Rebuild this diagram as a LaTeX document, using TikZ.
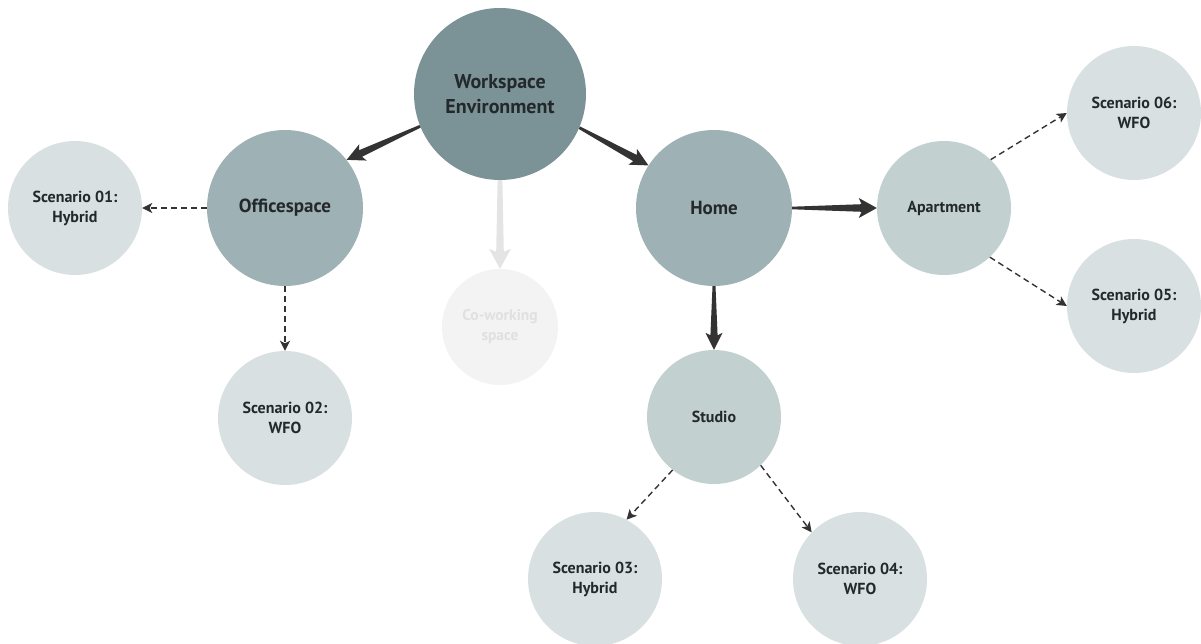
\documentclass[tikz,border=0pt]{standalone}
\usepackage{fontspec}
\setmainfont{PT Sans}
\usetikzlibrary{arrows.meta,calc}

\definecolor{wsfill}{HTML}{7B9297}
\definecolor{midfill}{HTML}{9EB1B4}
\definecolor{lightfill}{HTML}{C3D0D0}
\definecolor{scenfill}{HTML}{D9E0E1}
\definecolor{cowfill}{HTML}{F3F3F3}
\definecolor{cowtext}{HTML}{E0E0E0}
\definecolor{cowarrow}{HTML}{E4E4E4}
\definecolor{ink}{HTML}{23292B}
\definecolor{arrowdark}{HTML}{333333}

% tapered solid arrow: [colour]{start}{end}{start half-width}{end half-width}{head length}{head half-width}
\newcommand\taperarrow[7][arrowdark]{%
  \fill[#1] let \p1=#2, \p2=#3, \n1={atan2(\y2-\y1,\x2-\x1)} in
    ($(\p1)+(\n1+90:#4)$) -- ($(\p2)!#6*0.85!(\p1)+(\n1+90:#5)$)
    -- ($(\p2)!#6!(\p1)+(\n1+90:#7)$) -- (\p2)
    -- ($(\p2)!#6!(\p1)+(\n1-90:#7)$) -- ($(\p2)!#6*0.85!(\p1)+(\n1-90:#5)$)
    -- ($(\p1)+(\n1-90:#4)$) -- cycle;}

\tikzset{
  bubble/.style={circle, inner sep=0pt, align=center, text=ink, font=\bfseries},
  wsnode/.style={bubble, fill=wsfill, minimum size=172pt, font=\bfseries\fontsize{20}{25}\selectfont},
  midnode/.style={bubble, fill=midfill, minimum size=156pt, font=\bfseries\fontsize{19}{22}\selectfont},
  lightnode/.style={bubble, fill=lightfill, minimum size=134pt, font=\bfseries\fontsize{16}{20}\selectfont},
  scennode/.style={bubble, fill=scenfill, minimum size=134pt, font=\bfseries\fontsize{16}{20}\selectfont},
  cownode/.style={bubble, fill=cowfill, text=cowtext, minimum size=116pt, font=\bfseries\fontsize{15.5}{20}\selectfont},
  dasharrow/.style={draw=arrowdark, line width=1.4pt, dash pattern=on 6pt off 4pt,
    -{Stealth[length=10pt,width=10pt,inset=2.5pt]}},
}

\begin{document}
\begin{tikzpicture}[x=1pt,y=-1pt]
\useasboundingbox (0,0) rectangle (1201,644);

\node[wsnode]    (ws)     at (500,94)   {Workspace\\Environment};
\node[midnode]   (office) at (285,208)  {Officespace};
\node[midnode]   (home)   at (714,208)  {Home};
\node[cownode]   (cow)    at (500,327)  {Co-working\\space};
\node[scennode]  (s01)    at (75,208)   {Scenario 01:\\Hybrid};
\node[scennode]  (s02)    at (285,418)  {Scenario 02:\\WFO};
\node[lightnode] (apt)    at (944,208)  {Apartment};
\node[scennode]  (s06)    at (1134,113) {Scenario 06:\\WFO};
\node[scennode]  (s05)    at (1134,306) {Scenario 05:\\Hybrid};
\node[lightnode] (studio) at (714,417)  {Studio};
\node[scennode]  (s03)    at (595,579)  {Scenario 03:\\Hybrid};
\node[scennode]  (s04)    at (860,579)  {Scenario 04:\\WFO};

% main branches
\taperarrow{(ws.202)}{(office.38)}{1.4pt}{3.6pt}{18pt}{9pt}
\taperarrow{(ws.-23)}{(home.147)}{1.4pt}{3.6pt}{18pt}{9pt}
\taperarrow{(home.east)}{(apt.west)}{1.3pt}{3.8pt}{18pt}{10pt}
\taperarrow{(home.south)}{(studio.north)}{1.5pt}{3.6pt}{17pt}{8.5pt}
\taperarrow[cowarrow]{(ws.south)}{(cow.north)}{2.4pt}{3.8pt}{20pt}{11pt}

% scenario links
\draw[dasharrow] (office.west)  -- (s01.east);
\draw[dasharrow] (office.south) -- (s02.north);
\draw[dasharrow] (apt.46)       -- (s06.west);
\draw[dasharrow] (apt.-47)      -- (s05.west);
\draw[dasharrow] (studio.232)   -- (s03.62);
\draw[dasharrow] (studio.-46)   -- (s04.136);
\end{tikzpicture}
\end{document}
